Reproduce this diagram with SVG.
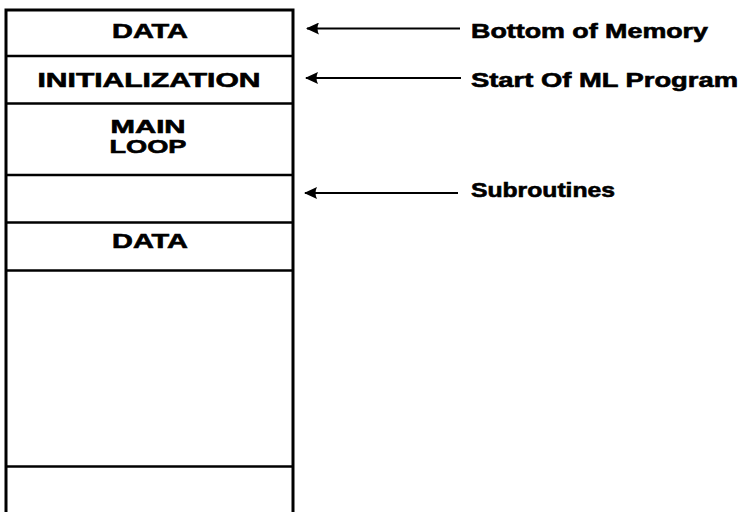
<svg xmlns="http://www.w3.org/2000/svg" width="739" height="512" viewBox="0 0 739 512">
<style>
.frame{fill:none;stroke:#000;stroke-width:3}
.div{stroke:#000;stroke-width:2.5}
.lbl{font-family:"Liberation Sans",Arial,sans-serif;font-weight:bold;font-size:20px;fill:#000;stroke:#000;stroke-width:0.6}
.box{text-anchor:middle}
.ml{font-size:19px}
.arr{stroke:#000;stroke-width:2;fill:none}
</style>
<defs>
<marker id="ah" viewBox="0 0 13 12" refX="12" refY="6" markerWidth="13" markerHeight="12" markerUnits="userSpaceOnUse" orient="auto">
<path d="M0,0 L13,6 L0,12 Q3,6 0,0 Z" fill="#000"/>
</marker>
</defs>
<rect width="739" height="512" fill="#fff"/>
<path class="frame" d="M6,512 V10 H293 V512"/>
<g id="n-data-top"><text class="lbl box" x="150" y="38" textLength="76" lengthAdjust="spacingAndGlyphs">DATA</text></g>
<line class="div" x1="6" y1="56" x2="293" y2="56"/>
<g id="n-init"><text class="lbl box" x="149" y="87" textLength="223" lengthAdjust="spacingAndGlyphs">INITIALIZATION</text></g>
<line class="div" x1="6" y1="103.5" x2="293" y2="103.5"/>
<g id="n-main"><text class="lbl box ml" x="148" y="133" textLength="75" lengthAdjust="spacingAndGlyphs">MAIN</text><text class="lbl box ml" x="148" y="152.5" textLength="77" lengthAdjust="spacingAndGlyphs">LOOP</text></g>
<line class="div" x1="6" y1="175" x2="293" y2="175"/>
<g id="n-sub"></g>
<line class="div" x1="6" y1="222.5" x2="293" y2="222.5"/>
<g id="n-data2"><text class="lbl box" x="150" y="248" textLength="76" lengthAdjust="spacingAndGlyphs">DATA</text></g>
<line class="div" x1="6" y1="270.5" x2="293" y2="270.5"/>
<g id="n-empty"></g>
<line class="div" x1="6" y1="466.5" x2="293" y2="466.5"/>
<g id="connectors">
<line class="arr" x1="460" y1="28.5" x2="307" y2="28.5" marker-end="url(#ah)"/>
<line class="arr" x1="461" y1="78" x2="306" y2="78" marker-end="url(#ah)"/>
<line class="arr" x1="458" y1="193" x2="305" y2="193" marker-end="url(#ah)"/>
</g>
<g id="labels">
<text class="lbl" x="471" y="38" textLength="237" lengthAdjust="spacingAndGlyphs">Bottom of Memory</text>
<text class="lbl" x="471" y="87" textLength="267" lengthAdjust="spacingAndGlyphs">Start Of ML Program</text>
<text class="lbl" x="471" y="197" textLength="144" lengthAdjust="spacingAndGlyphs">Subroutines</text>
</g>
</svg>
